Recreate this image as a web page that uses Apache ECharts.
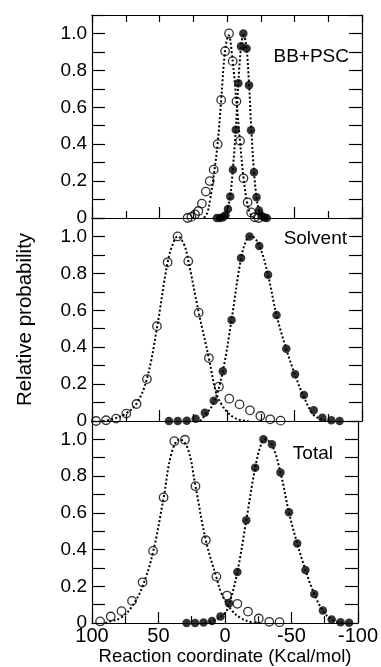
<!DOCTYPE html>
<html>
<head>
<meta charset="utf-8">
<script src="https://cdn.jsdelivr.net/npm/echarts@6/dist/echarts.min.js"></script>
<style>
  html, body { margin: 0; padding: 0; background: #fff; }
  #chart { width: 381px; height: 667px; }
</style>
</head>
<body>
<div id="chart"></div>
<script>
// [reaction coordinate, relative probability]
const bbOpen = [[29.2,0],[26.4,0.006],[23.7,0.02],[21.2,0.038],[18.6,0.078],[15.7,0.143],[12.8,0.2],[9.9,0.262],[6.9,0.4],[4.3,0.64],[1.4,0.904],[-1.5,1.0],[-4.2,0.85],[-7.0,0.632],[-9.7,0.418],[-12.2,0.215],[-15.3,0.085],[-17.9,0.03],[-20.5,0.004],[-23.4,0]];
const bbFilled = [[7.5,0],[5.2,0],[3.0,0.004],[1.1,0.015],[-0.7,0.049],[-2.4,0.116],[-4.4,0.262],[-6.5,0.478],[-8.4,0.73],[-10.4,0.93],[-12.1,1.0],[-14.5,0.918],[-16.3,0.72],[-17.8,0.475],[-20.0,0.248],[-21.9,0.112],[-23.7,0.04],[-25.6,0.012],[-27.6,0.003],[-29.5,0]];
const bbOpenFit = [[17,0],[14.5,0.03],[12.5,0.1],[10,0.22],[7,0.4],[4.3,0.64],[1.5,0.9],[-1.2,0.99],[-4.2,0.85],[-7,0.63],[-9.7,0.41],[-12.2,0.22],[-15,0.08],[-17.5,0.02],[-20,0]];
const bbFilledFit = [[4,0],[2,0.01],[0,0.04],[-2.4,0.12],[-4.4,0.27],[-6.5,0.48],[-8.4,0.73],[-10.3,0.92],[-12.2,0.99],[-14.3,0.93],[-16.3,0.73],[-18,0.48],[-20,0.25],[-21.9,0.11],[-23.7,0.04],[-25.5,0.01],[-27,0]];

const solOpen = [[97,0],[89.6,0.004],[82.2,0.013],[74.6,0.04],[67,0.092],[59.3,0.227],[51.9,0.514],[44,0.86],[36.6,1.0],[28.7,0.866],[21,0.587],[13.4,0.341],[6,0.186],[-1.7,0.121],[-9.3,0.09],[-17,0.058],[-24.7,0.027],[-32,0.009],[-39.7,0.002]];
const solFilled = [[43,0],[36.5,0],[29.8,0.002],[23.2,0.012],[16.4,0.045],[9.8,0.11],[3.1,0.269],[-3.4,0.547],[-10.4,0.883],[-16.7,1.0],[-23.9,0.948],[-30.4,0.793],[-36.7,0.574],[-43.9,0.392],[-50.4,0.254],[-57,0.141],[-64.2,0.058],[-70.6,0.018],[-77.3,0.004],[-83.4,0]];
const solOpenFit = [[92,0],[85,0.01],[75,0.04],[67,0.095],[59.3,0.23],[52,0.5],[44,0.86],[40,0.96],[36.5,1.0],[32,0.96],[28.7,0.87],[21,0.59],[13.4,0.34],[8,0.15],[4,0.09],[0,0.05],[-5,0.02],[-10,0.005],[-16,0]];
const solFilledFit = [[20,0],[16.4,0.03],[9.8,0.1],[3.1,0.27],[-3.4,0.55],[-10.4,0.88],[-15,0.99],[-18,1.0],[-23.9,0.95],[-30.4,0.79],[-36.7,0.574],[-43.9,0.39],[-50.4,0.25],[-57,0.13],[-64,0.035],[-70,0.01],[-76,0]];

const totOpen = [[93.9,0.009],[85.9,0.036],[77.8,0.065],[69.9,0.121],[62,0.222],[54.1,0.393],[46.2,0.684],[38.1,0.99],[30.1,0.998],[22.2,0.745],[14.4,0.451],[6.5,0.253],[-1.5,0.15],[-9.3,0.105],[-17.3,0.063],[-25.4,0.025],[-33.3,0.007],[-41,0.005]];
const totFilled = [[28.9,0],[22.5,0],[16.1,0.003],[9.8,0.012],[3.4,0.036],[-3,0.108],[-9.3,0.278],[-16,0.56],[-22.7,0.845],[-28.9,1.0],[-35.3,0.973],[-41.7,0.82],[-48.1,0.603],[-54.3,0.433],[-60.5,0.289],[-67.1,0.159],[-73.6,0.068],[-80.2,0.02],[-86.9,0.005],[-93.3,0.002]];
const totOpenFit = [[90,0],[85.9,0.01],[78,0.03],[70,0.09],[62,0.2],[54,0.39],[46.2,0.68],[40,0.93],[34,1.0],[28,0.95],[22.2,0.745],[14.4,0.45],[6.5,0.25],[2.5,0.16],[-5,0.07],[-12,0.027],[-20,0.005],[-27,0]];
const totFilledFit = [[15,0],[7.4,0.018],[0,0.055],[-3,0.1],[-9.3,0.278],[-16,0.56],[-22.7,0.845],[-27,0.97],[-30,1.0],[-35.3,0.97],[-41.7,0.82],[-48.1,0.603],[-54.3,0.433],[-60.5,0.289],[-67.1,0.159],[-73.6,0.068],[-80.2,0.02],[-89,0]];

const panelNames = ["BB+PSC", "Solvent", "Total"];
const xRange = [-100, 100];
const yRange = [0, 1.1];

const panels = [
  [bbOpen, bbFilled, bbOpenFit, bbFilledFit],
  [solOpen, solFilled, solOpenFit, solFilledFit],
  [totOpen, totFilled, totOpenFit, totFilledFit],
];

const FONT = "'Liberation Sans', Arial, Helvetica, sans-serif";
const black = "#000";
const tops = [15, 218, 421];
const panelH = 203;

const grids = tops.map((t) => ({ left: 92, width: 270, top: t, height: panelH }));

const line = { color: black, width: 1.2 };
const xAxes = [];
const yAxes = [];
tops.forEach((t, i) => {
  const last = i === tops.length - 1;
  // bottom x axis
  xAxes.push({
    type: "value", gridIndex: i, position: "bottom",
    min: xRange[0], max: xRange[1], interval: 50, inverse: true,
    axisLine: { onZero: false, lineStyle: line },
    axisTick: { inside: true, length: 11, lineStyle: line },
    minorTick: { show: true, splitNumber: 2, length: 7, lineStyle: line },
    splitLine: { show: false },
    axisLabel: { show: last, color: black, fontSize: 20, fontFamily: FONT, margin: 3 },
    name: last ? "Reaction coordinate (Kcal/mol)" : "",
    nameLocation: "middle", nameGap: 23,
    nameTextStyle: { color: black, fontSize: 18.5, fontFamily: FONT },
  });
  // top x axis (ticks only on the first panel)
  xAxes.push({
    type: "value", gridIndex: i, position: "top",
    min: xRange[0], max: xRange[1], interval: 50, inverse: true,
    axisLine: { onZero: false, lineStyle: line },
    axisTick: { show: i === 0, inside: true, length: 7, lineStyle: line },
    minorTick: { show: i === 0, splitNumber: 2, length: 7, lineStyle: line },
    splitLine: { show: false },
    axisLabel: { show: false },
  });
  const yBase = {
    type: "value", gridIndex: i,
    min: yRange[0], max: yRange[1], interval: 0.1,
    axisLine: { show: true, onZero: false, lineStyle: line },
    axisTick: { show: true, inside: true, length: 13, lineStyle: line },
    splitLine: { show: false },
  };
  yAxes.push(Object.assign({}, yBase, {
    position: "left",
    axisLabel: {
      color: black, fontSize: 19, fontFamily: FONT, margin: 5,
      formatter: (v) => {
        const r = Math.round(v * 10);
        if (r % 2 !== 0 || r > 10) return "";
        return r === 0 ? "0" : (r / 10).toFixed(1);
      },
    },
    name: i === 1 ? "Relative probability" : "",
    nameLocation: "middle", nameGap: 56,
    nameTextStyle: { color: black, fontSize: 20.5, fontFamily: FONT },
  }));
  yAxes.push(Object.assign({}, yBase, {
    position: "right",
    axisLabel: { show: false },
  }));
});

const series = [];
panels.forEach(([open, filled, openFit, filledFit], i) => {
  const axes = { xAxisIndex: 2 * i, yAxisIndex: 2 * i };
  [openFit, filledFit].forEach((fit) => {
    series.push(Object.assign({
      type: "line", data: fit, symbol: "none", smooth: 0.4, z: 2,
      lineStyle: { color: black, width: 2, type: [2, 2.2], cap: "butt" },
    }, axes));
  });
  series.push(Object.assign({
    type: "scatter", data: open, symbol: "circle", symbolSize: 8.5, z: 3,
    itemStyle: { color: "rgba(255,255,255,0)", borderColor: black, borderWidth: 1.3 },
  }, axes));
  series.push(Object.assign({
    type: "scatter", data: filled, symbol: "circle", symbolSize: 8.5, z: 3,
    itemStyle: { color: black },
  }, axes));
});

const labelPos = [
  { right: 32, top: 47 },
  { right: 34, top: 229 },
  { right: 48, top: 444 },
];
const graphic = panelNames.map((name, i) => ({
  type: "text", right: labelPos[i].right, top: labelPos[i].top, z: 10,
  style: { text: name, fill: black, font: "19px " + FONT },
}));

const chart = echarts.init(document.getElementById("chart"), null, { renderer: "canvas" });
chart.setOption({
  animation: false,
  backgroundColor: "#fff",
  grid: grids,
  xAxis: xAxes,
  yAxis: yAxes,
  series: series,
  graphic: graphic,
});
window.addEventListener("resize", () => chart.resize());
</script>
</body>
</html>
